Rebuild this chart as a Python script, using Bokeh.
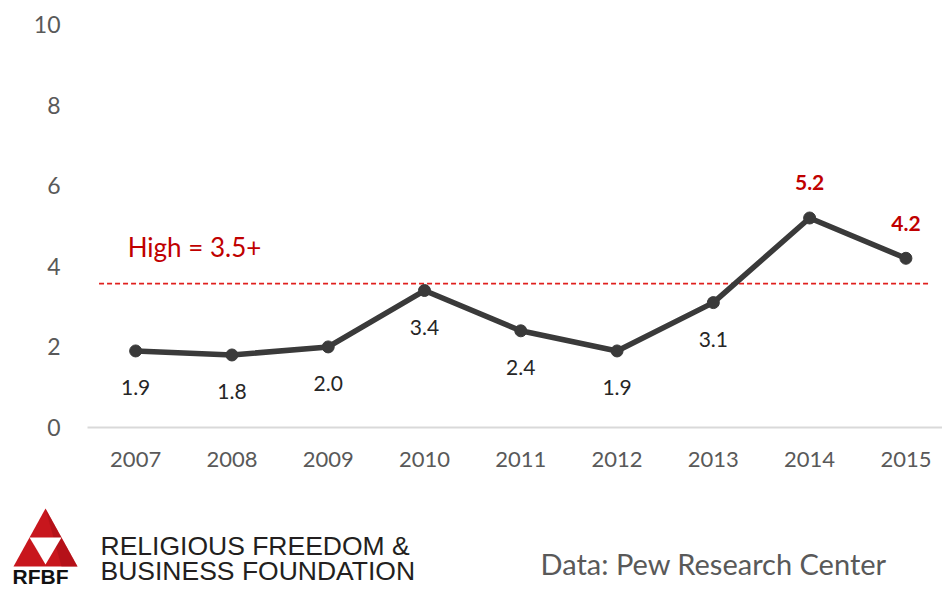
from bokeh.plotting import figure
from bokeh.models import Range1d, ColumnDataSource, Label, FixedTicker
from bokeh.layouts import column
from bokeh.embed import file_html
from bokeh.resources import INLINE
from bokeh.core.properties import value

# ---- data ----
years = [2007, 2008, 2009, 2010, 2011, 2012, 2013, 2014, 2015]
scores = [1.9, 1.8, 2.0, 3.4, 2.4, 1.9, 3.1, 5.2, 4.2]
y_ticks = [0, 2, 4, 6, 8, 10]
threshold = 3.57
threshold_label = "High = 3.5+"
source_text = "Data: Pew Research Center"
org_line1 = "RELIGIOUS FREEDOM &"
org_line2 = "BUSINESS FOUNDATION"
logo_text = "RFBF"

FONT = "Lato"
W = 942
CH = 500   # chart height
FH = 92    # footer height

p = figure(width=W, height=CH, output_backend="svg", toolbar_location=None,
           x_range=Range1d(2006.5, 2015.38), y_range=Range1d(0, 10.35),
           min_border_left=87, min_border_right=0, min_border_top=10,
           min_border_bottom=CH - 427, frame_align=False)
p.outline_line_color = None
p.grid.visible = False
p.background_fill_color = "white"
p.border_fill_color = "white"

# y axis
p.yaxis.ticker = FixedTicker(ticks=y_ticks)
p.yaxis.axis_line_color = None
p.yaxis.major_tick_line_color = None
p.yaxis.minor_tick_line_color = None
p.yaxis.major_label_standoff = 21
p.yaxis.major_label_text_font = FONT
p.yaxis.major_label_text_font_size = "23px"
p.yaxis.major_label_text_color = "#595959"

# x axis
p.xaxis.ticker = FixedTicker(ticks=years)
p.xaxis.axis_line_color = "#d9d9d9"
p.xaxis.axis_line_width = 2
p.xaxis.major_tick_line_color = None
p.xaxis.minor_tick_line_color = None
p.xaxis.major_label_standoff = 18
p.xaxis.major_label_text_font = FONT
p.xaxis.major_label_text_font_size = "22px"
p.xaxis.major_label_text_color = "#595959"

# threshold dashed line
p.segment(x0=[years[0] - 0.38], x1=[years[-1] + 0.24], y0=[threshold], y1=[threshold],
          line_color="#e0201e", line_width=1.8, line_dash="5 3")
p.add_layout(Label(x=years[0], y=threshold, x_offset=-8, y_offset=37, text=threshold_label,
                   text_font=FONT, text_font_size="26px", text_color="#c00000",
                   text_baseline="middle", text_align="left"))

# line + markers
src = ColumnDataSource(dict(x=years, y=scores))
p.line("x", "y", source=src, line_color="#3a3a3a", line_width=5.5)
p.scatter("x", "y", source=src, size=12, fill_color="#3a3a3a", line_color="#3a3a3a")

below = [i for i, v in enumerate(scores) if v <= 3.5]
above = [i for i, v in enumerate(scores) if v > 3.5]
src_b = ColumnDataSource(dict(x=[years[i] for i in below], y=[scores[i] for i in below],
                              lab=[f"{scores[i]:.1f}" for i in below]))
src_a = ColumnDataSource(dict(x=[years[i] for i in above], y=[scores[i] for i in above],
                              lab=[f"{scores[i]:.1f}" for i in above]))
p.text("x", "y", text="lab", source=src_b, y_offset=37, text_align="center",
       text_baseline="middle", text_font=value(FONT), text_font_size="21px",
       text_color="#262626")
p.text("x", "y", text="lab", source=src_a, y_offset=-35, text_align="center",
       text_baseline="middle", text_font=value(FONT), text_font_size="21px",
       text_font_style="bold", text_color="#c00000")

# ---- footer: its own figure, coordinates = page pixels ----
f = figure(width=W, height=FH, output_backend="svg", toolbar_location=None,
           x_range=Range1d(0, W), y_range=Range1d(CH + FH, CH),
           min_border=0, frame_align=False)
f.axis.visible = False
f.grid.visible = False
f.outline_line_color = None
f.background_fill_color = "white"
f.border_fill_color = "white"

# decorative logo
f.patch(x=[45, 13, 77], y=[508, 566, 566], fill_color="#c8161d", line_color=None)
f.patch(x=[45, 77, 61], y=[508, 566, 566], fill_color="#a50f15", fill_alpha=0.55, line_color=None)
f.patch(x=[29, 61, 45], y=[537, 537, 564], fill_color="white", line_color=None)
f.patch(x=[29, 45, 37], y=[537, 564, 550], fill_color="#8e0c10", fill_alpha=0.35, line_color=None)

BL = 9  # baseline correction

def txt(x, y, text, font, size, color, style="normal"):
    f.text(x=[x], y=[y - BL], text=[text], text_font=value(font), text_font_size=size,
           text_color=color, text_font_style=style, text_baseline="alphabetic",
           text_align="left")

txt(12, 585, logo_text, "Liberation Sans", "21px", "#111111", "bold")
txt(100, 554, org_line1, "Liberation Sans", "26.5px", "#231f20")
txt(100, 579, org_line2, "Liberation Sans", "26.5px", "#231f20")
txt(540, 572, source_text, FONT, "29px", "#595959")

layout = column(p, f, spacing=0)
open("out.html", "w").write(file_html(layout, INLINE))
